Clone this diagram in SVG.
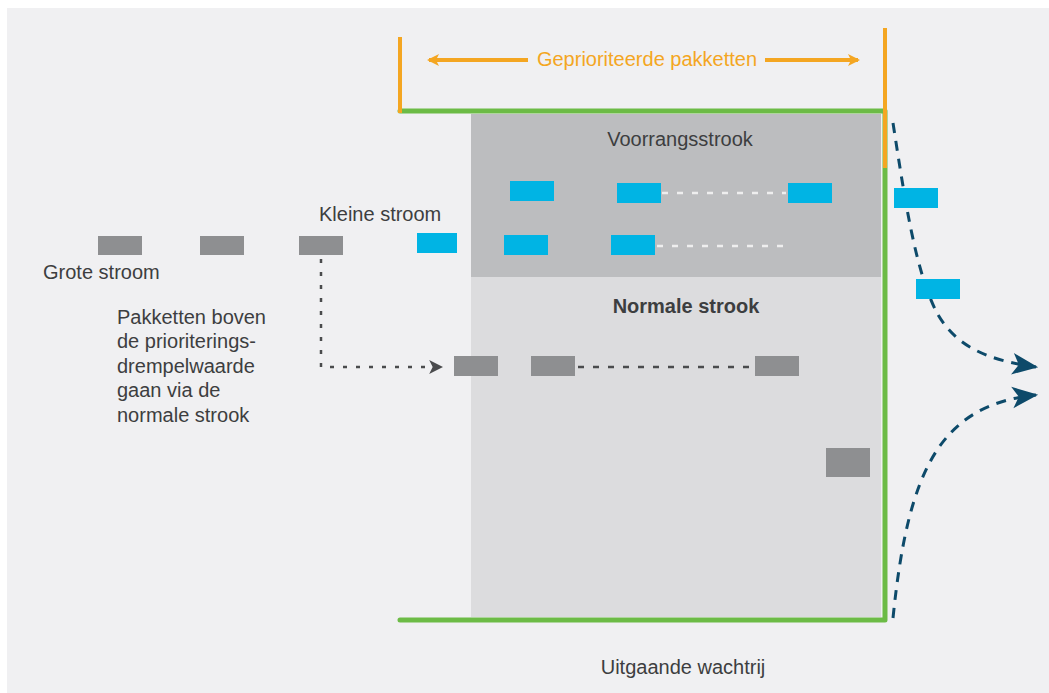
<svg xmlns="http://www.w3.org/2000/svg" width="1049" height="693" viewBox="0 0 1049 693">
<style>
text{font-family:"Liberation Sans",Arial,sans-serif;font-size:20px;fill:#3d3e40}
.blue{fill:#00b4e4}
.pk{fill:#8e8f91}
.orange{stroke:#f4a622;stroke-width:4;fill:none}
.green{stroke:#6cbb46;stroke-width:5;fill:none;stroke-linejoin:round;stroke-linecap:round}
.teal{stroke:#0d4a6a;stroke-width:3;fill:none;stroke-dasharray:10 8}
</style>
<defs>
<marker id="ao" viewBox="0 0 12 12" refX="10" refY="6" markerWidth="12" markerHeight="12" markerUnits="userSpaceOnUse" orient="auto-start-reverse"><path d="M0,0 L12,6 L0,12 L3,6 Z" fill="#f4a622"/></marker>
<marker id="ag" viewBox="0 0 12 12" refX="11" refY="6" markerWidth="14" markerHeight="14" markerUnits="userSpaceOnUse" orient="auto"><path d="M0,0 L12,6 L0,12 L3,6 Z" fill="#4a4b4d"/></marker>
<marker id="at" viewBox="0 0 12 12" refX="11" refY="6" markerWidth="26" markerHeight="26" markerUnits="userSpaceOnUse" orient="auto"><path d="M0,1 L12,6 L0,11 L3,6 Z" fill="#0d4a6a"/></marker>
</defs>
<rect x="0" y="0" width="1049" height="693" fill="#ffffff"/>
<rect x="7" y="8" width="1042" height="685" fill="#f0f0f2"/>
<g id="voorrangsstrook">
<rect x="471" y="114" width="410" height="163" fill="#bcbdbf"/>
<text x="680" y="146" text-anchor="middle">Voorrangsstrook</text>
</g>
<g id="normale-strook">
<rect x="471" y="277" width="410" height="340" fill="#dcdcde"/>
<text x="686" y="313" text-anchor="middle" font-weight="bold">Normale strook</text>
</g>
<g id="wachtrij">
<path class="green" d="M400,111 H885 V620 H400"/>
<line class="orange" x1="400" y1="37" x2="400" y2="113"/>
<line class="orange" x1="885" y1="28" x2="885" y2="168"/>
<text x="683" y="674" text-anchor="middle">Uitgaande wachtrij</text>
</g>
<g id="label-geprioriteerd">
<text x="647" y="66" text-anchor="middle" style="fill:#f4a622;font-size:20px">Geprioriteerde pakketten</text>
</g>
<g id="connectors">
<line class="orange" x1="528" y1="60" x2="429" y2="60" stroke-width="3" marker-end="url(#ao)"/>
<line class="orange" x1="765" y1="60" x2="858" y2="60" stroke-width="3" marker-end="url(#ao)"/>
<path d="M321,259 V367 H442" fill="none" stroke="#4a4b4d" stroke-width="2.5" stroke-dasharray="4 9" marker-end="url(#ag)"/>
<line x1="662" y1="193" x2="786" y2="193" stroke="#eeeeee" stroke-width="2.5" stroke-dasharray="6 9"/>
<line x1="657" y1="246" x2="790" y2="246" stroke="#eeeeee" stroke-width="2.5" stroke-dasharray="6 9"/>
<line x1="578" y1="367" x2="752" y2="367" stroke="#4a4b4d" stroke-width="2.5" stroke-dasharray="6 9"/>
<path class="teal" d="M893,123 C905,200 915,270 937,313 C955,345 985,360 1036,367" marker-end="url(#at)"/>
<path class="teal" d="M893,618 C908,470 940,405 1036,395" marker-end="url(#at)"/>
</g>
<g id="grote-stroom">
<rect class="pk" x="98" y="236" width="44" height="19"/>
<rect class="pk" x="200" y="236" width="44" height="19"/>
<rect class="pk" x="299" y="236" width="44" height="19"/>
<text x="43" y="279">Grote stroom</text>
</g>
<g id="kleine-stroom">
<rect class="blue" x="417" y="233" width="40" height="20"/>
<text x="319" y="221">Kleine stroom</text>
</g>
<g id="pakketten-voorrang">
<rect class="blue" x="510" y="181" width="44" height="20"/>
<rect class="blue" x="617" y="183" width="44" height="20"/>
<rect class="blue" x="788" y="183" width="44" height="20"/>
<rect class="blue" x="504" y="235" width="44" height="20"/>
<rect class="blue" x="611" y="235" width="44" height="20"/>
</g>
<g id="pakketten-normaal">
<rect class="pk" x="454" y="356" width="44" height="20"/>
<rect class="pk" x="531" y="356" width="44" height="20"/>
<rect class="pk" x="755" y="356" width="44" height="20"/>
<rect class="pk" x="826" y="448" width="44" height="29"/>
</g>
<g id="uitgaand">
<rect class="blue" x="894" y="188" width="44" height="20"/>
<rect class="blue" x="916" y="279" width="44" height="20"/>
</g>
<g id="toelichting">
<text x="117" y="324">Pakketten boven</text>
<text x="117" y="348">de prioriterings-</text>
<text x="117" y="373">drempelwaarde</text>
<text x="117" y="397">gaan via de</text>
<text x="117" y="422">normale strook</text>
</g>
</svg>
